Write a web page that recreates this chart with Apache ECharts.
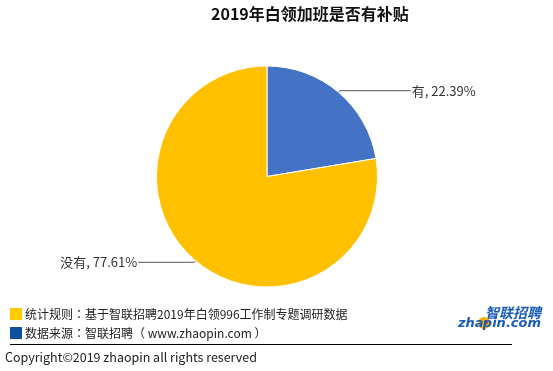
<!DOCTYPE html>
<html>
<head>
<meta charset="utf-8">
<script src="https://cdn.jsdelivr.net/npm/echarts@6/dist/echarts.min.js"></script>
<style>
html,body{margin:0;padding:0;background:#fff;}
#chart{width:553px;height:371px;}
</style>
</head>
<body>
<div id="chart"></div>
<script>
var titleText = '2019年白领加班是否有补贴';
var categories = ['有', '没有'];
var values = [22.39, 77.61];
var sliceColors = ['#4472C4', '#FFC000'];
var noteHeads = ['统计规则', '数据来源'];
var noteBodies = ['基于智联招聘2019年白领996工作制专题调研数据', '智联招聘（ www.zhaopin.com ）'];
var copyrightText = 'Copyright©2019 zhaopin all rights reserved';

var FONT = '"Noto Sans CJK SC", "Noto Sans", sans-serif';
var chart = echarts.init(document.getElementById('chart'), null, {renderer: 'canvas'});

var lineLens = [71, 56];
var data = categories.map(function (c, i) {
  return {
    name: c,
    value: values[i],
    itemStyle: {color: sliceColors[i]},
    labelLine: {length: 2, length2: lineLens[i]}
  };
});

function noteText(i, x, y) {
  return {
    type: 'text', x: x, y: y,
    style: {
      text: '{a|' + noteHeads[i] + '}{c|：}{a|' + noteBodies[i] + '}',
      verticalAlign: 'middle',
      rich: {
        a: {font: '12px ' + FONT, fill: '#222'},
        c: {font: '12px "Noto Sans CJK TC", sans-serif', fill: '#222'}
      }
    }
  };
}

chart.setOption({
  animation: false,
  backgroundColor: '#fff',
  title: {
    text: titleText,
    left: 211,
    top: 6,
    padding: 0,
    textStyle: {fontFamily: FONT, fontSize: 16, fontWeight: 'bold', color: '#111'}
  },
  series: [{
    type: 'pie',
    center: [267, 176.5],
    radius: 110.5,
    startAngle: 90,
    clockwise: true,
    avoidLabelOverlap: false,
    itemStyle: {borderColor: '#fff', borderWidth: 1},
    label: {
      show: true,
      position: 'outside',
      formatter: function (p) { return p.name + ', ' + p.value.toFixed(2) + '%'; },
      fontFamily: FONT,
      fontSize: 13,
      color: '#333',
      padding: [0, 0, 10, 0],
      distanceToLabelLine: 1
    },
    labelLine: {
      show: true,
      lineStyle: {color: '#555', width: 1}
    },
    emphasis: {disabled: true},
    data: data
  }],
  graphic: [
    {type: 'rect', shape: {x: 10, y: 308, width: 12, height: 12}, style: {fill: '#FFCC00'}},
    noteText(0, 25, 314),
    {type: 'rect', shape: {x: 10, y: 327, width: 12, height: 12}, style: {fill: '#0B4EA2'}},
    noteText(1, 25, 333),
    {type: 'line', shape: {x1: 10, y1: 344.5, x2: 512, y2: 344.5}, style: {stroke: '#000', lineWidth: 1}},
    {type: 'text', x: 5, y: 357, style: {text: copyrightText, font: '12.5px ' + FONT, fill: '#222', verticalAlign: 'middle'}},
    {type: 'text', x: 541, y: 313, style: {text: '智联招聘', font: 'italic bold 14px ' + FONT, fill: '#1A5CB8', align: 'right', verticalAlign: 'middle'}},
    {type: 'circle', shape: {cx: 484, cy: 323, r: 6}, style: {fill: '#F5B400'}},
    {type: 'circle', shape: {cx: 486, cy: 322, r: 2}, style: {fill: '#D8262D'}},
    {type: 'text', x: 458, y: 324, style: {text: 'zha', font: 'italic bold 13px "DejaVu Sans", sans-serif', fill: '#1A5CB8', verticalAlign: 'middle'}},
    {type: 'text', x: 541, y: 324, style: {text: 'pin.com', font: 'italic bold 13px "DejaVu Sans", sans-serif', fill: '#1A5CB8', align: 'right', verticalAlign: 'middle'}}
  ]
});
</script>
</body>
</html>
